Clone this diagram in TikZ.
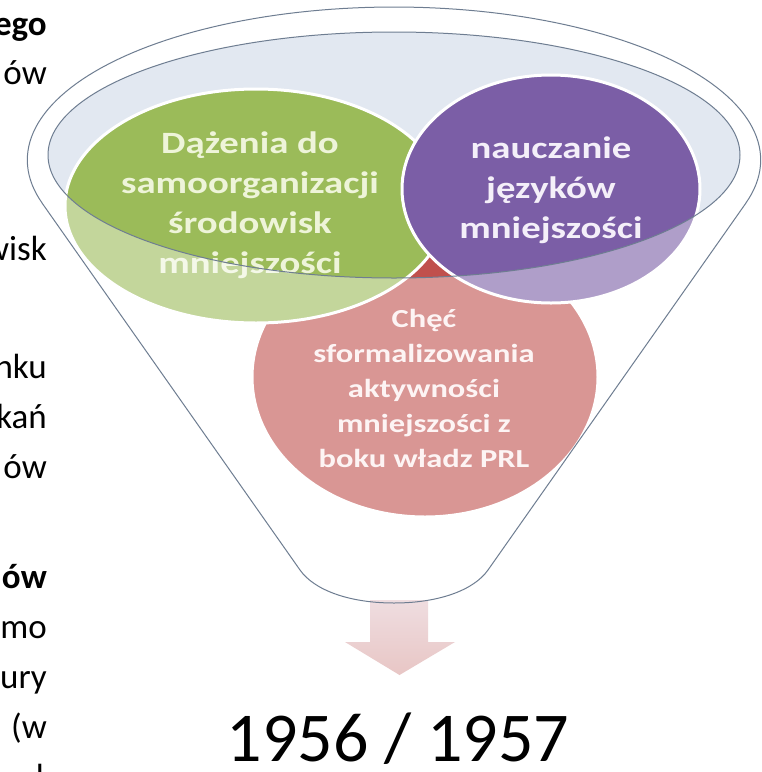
\documentclass[tikz,border=0pt]{standalone}
\usepackage{fontspec}
\setmainfont{Carlito}
\newfontfamily\smartfont[FakeStretch=1.25]{Carlito}
\usetikzlibrary{shapes.geometric}
\definecolor{greenc}{HTML}{9BBB59}
\definecolor{purplec}{HTML}{7B5EA6}
\definecolor{redc}{HTML}{C0504D}
\definecolor{greentxt}{HTML}{EEF4D9}
\definecolor{purpletxt}{HTML}{F4EFF9}
\definecolor{redtxt}{HTML}{FCEDED}
\definecolor{rimfill}{HTML}{E2E8F1}
\definecolor{outline}{HTML}{6E7D91}
\definecolor{arrowtop}{HTML}{EFDDE0}
\definecolor{arrowbot}{HTML}{E8C6C5}
\newcommand\funnelOutline{(42.1,203.1) -- (300,570) .. controls (314,590) and (349,603) .. (394,603) .. controls (439,603) and (474,590) .. (488,570) -- (745.9,203.1) -- plot[domain=-16.35:196.35,samples=120] ({394+366.7*cos(\x)},{160-153*sin(\x)}) -- cycle}
\begin{document}
\begin{tikzpicture}[x=1pt,y=-1pt,
  ell/.style={ellipse, draw=white, line width=3pt, inner sep=0pt},
  bubbletext/.style={align=center, inner sep=0pt, font=\smartfont\bfseries\fontsize{31}{40}\selectfont},
  lefttext/.style={anchor=base east, inner sep=0pt, font=\fontsize{35}{50}\selectfont},
  leftbold/.style={lefttext, font=\bfseries\fontsize{35}{50}\selectfont}]
\useasboundingbox (0,0) rectangle (762,772);
\clip (0,0) rectangle (762,772);
\fill[white] (0,0) rectangle (762,772);

% inner opening of the funnel
\fill[rimfill] (394,155) ellipse [x radius=346pt, y radius=123pt];

% bubbles
\node[ell, fill=redc, minimum width=346pt, minimum height=280pt] (red) at (425,377) {};
\node[ell, fill=greenc, minimum width=382pt, minimum height=234pt] (green) at (256,206) {};
\node[ell, fill=purplec, minimum width=298pt, minimum height=228pt] (purple) at (551,189) {};

\node[bubbletext, text=greentxt] (greentext) at (250,205) {Dążenia do\\samoorganizacji\\środowisk\\mniejszości};
\node[bubbletext, text=purpletxt] (purpletext) at (551,190) {nauczanie\\języków\\mniejszości};
\node[bubbletext, text=redtxt, font=\smartfont\bfseries\fontsize{26}{35}\selectfont] (redtext) at (424,388) {Chęć\\sformalizowania\\aktywności\\mniejszości z\\boku władz PRL};

% front of the funnel (semi-transparent)
\fill[white, fill opacity=0.4, even odd rule] \funnelOutline (394,155) ellipse [x radius=346pt, y radius=123pt];

% arrow
\coordinate (a1) at (370,600);
\coordinate (a2) at (428,600);
\coordinate (a3) at (428,642);
\coordinate (a4) at (455,642);
\coordinate (a5) at (399.5,675);
\coordinate (a6) at (345,642);
\coordinate (a7) at (370,642);
\shade[top color=arrowtop, bottom color=arrowbot] (a1) -- (a2) -- (a3) -- (a4) -- (a5) -- (a6) -- (a7) -- cycle;

% outlines
\draw[outline, line width=1pt, line join=round] \funnelOutline;
\draw[outline, line width=1pt] (394,155) ellipse [x radius=346pt, y radius=123pt];

\node[anchor=base, inner sep=0pt, font=\fontsize{70}{84}\selectfont] (year) at (398,761) {1956 / 1957};

% left text fragments (ends of lines of a text column cut by the picture edge)
\node[leftbold] (l1) at (47,35) {ego};
\node[lefttext] (l2) at (47,84) {ów};
\node[lefttext] (l3) at (47,260) {wisk};
\node[lefttext] (l4) at (47,378) {nku};
\node[lefttext] (l5) at (47,428) {kań};
\node[lefttext] (l6) at (47,478) {ów};
\node[leftbold] (l7) at (47,588) {ów};
\node[lefttext] (l8) at (47,638) {mo};
\node[lefttext] (l9) at (47,688) {ury};
\node[lefttext] (l10) at (47,738) {(w};
\node[lefttext] (l11) at (44,788) {l};
\end{tikzpicture}
\end{document}
